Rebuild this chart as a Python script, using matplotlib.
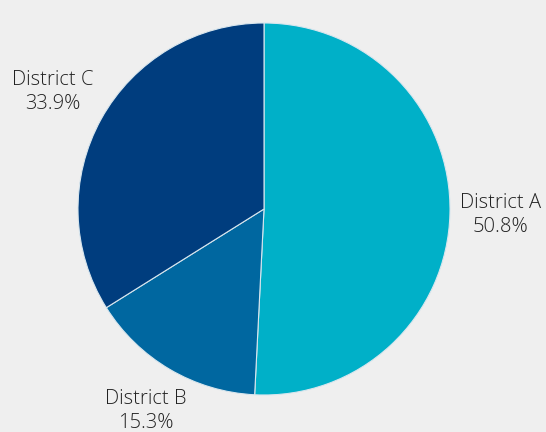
import numpy as np
import matplotlib.pyplot as plt

labels = ["District A", "District B", "District C"]
values = [50.8, 15.3, 33.9]
colors = ["#00b0c8", "#0067a0", "#003d7e"]
label_dist = [1.27, 1.26, 1.30]

fig = plt.figure(figsize=(5.46, 4.32), dpi=100, facecolor="#efefef")
ax = fig.add_axes([0, 0, 1, 1])
ax.set_facecolor("#efefef")
ax.set_xlim(0, 546)
ax.set_ylim(0, 432)
ax.set_aspect("equal")
ax.axis("off")

cx, cy, r = 264, 223, 186
wedges, _ = ax.pie(values, colors=colors, startangle=90, counterclock=False,
                   center=(cx, cy), radius=r,
                   wedgeprops=dict(edgecolor="#d8e6ee", linewidth=0.8))
ax.set_xlim(0, 546)
ax.set_ylim(0, 432)

for w, lab, v, d in zip(wedges, labels, values, label_dist):
    th = np.deg2rad((w.theta1 + w.theta2) / 2)
    ax.text(cx + r * d * np.cos(th), cy + r * d * np.sin(th),
            f"{lab}\n{v:.1f}%", ha="center", va="center",
            fontsize=14.5, family="Open Sans", fontweight="light",
            color="#222222", linespacing=1.3)

fig.savefig("out.png", dpi=100, facecolor=fig.get_facecolor())
